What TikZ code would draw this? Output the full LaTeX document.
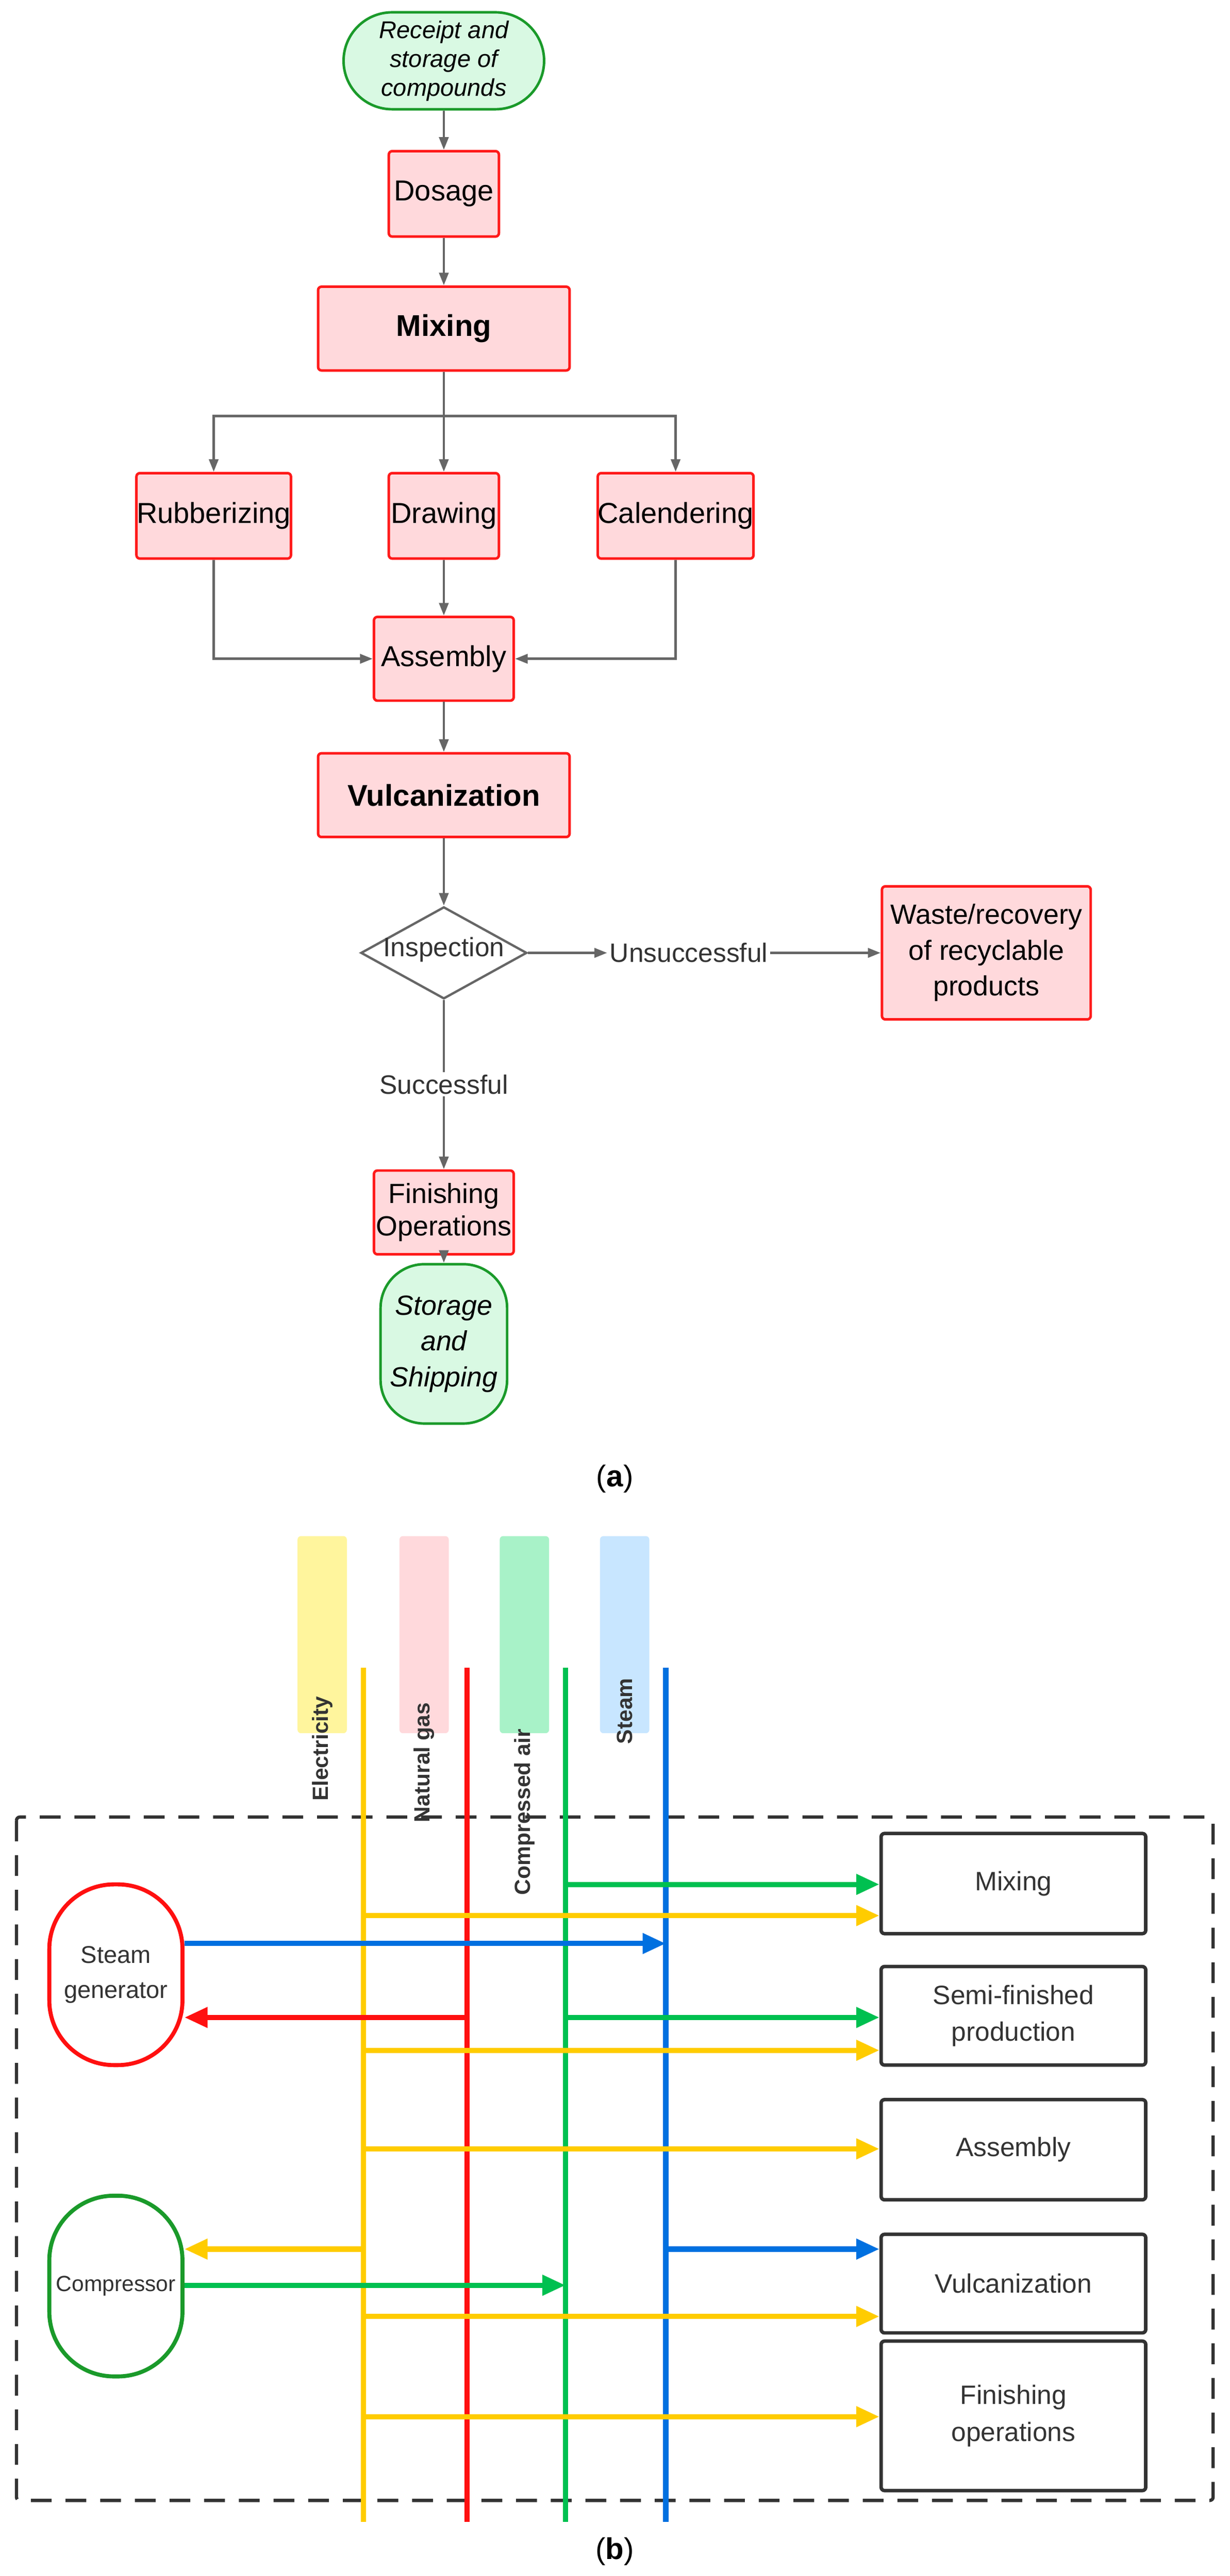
\documentclass[tikz,border=0pt]{standalone}
\usepackage{fontspec}
\setmainfont{Liberation Sans}
\usetikzlibrary{arrows.meta,shapes.geometric}
\definecolor{pfill}{HTML}{FFD9DC}
\definecolor{pred}{HTML}{FF1A1A}
\definecolor{gfill}{HTML}{D9F9E3}
\definecolor{gline}{HTML}{1A9A2A}
\definecolor{ar}{HTML}{666666}
\definecolor{cy}{HTML}{FFCC00}
\definecolor{cr}{HTML}{FF1010}
\definecolor{cg}{HTML}{00C050}
\definecolor{cb}{HTML}{0070E0}
\definecolor{ly}{HTML}{FFF59D}
\definecolor{lp}{HTML}{FFD9DC}
\definecolor{lg}{HTML}{A8F2C8}
\definecolor{lb}{HTML}{C8E6FF}
\definecolor{tx}{HTML}{333333}
\begin{document}
\begin{tikzpicture}[x=0.05cm,y=-0.05cm,
  proc/.style={draw=pred,line width=2.2pt,fill=pfill,rounded corners=3pt,inner sep=0pt,font=\fontsize{25}{30}\selectfont,align=center},
  term/.style={draw=gline,line width=2.2pt,fill=gfill,rounded corners=42pt,inner sep=0pt,font=\fontsize{21}{25}\selectfont\itshape,align=center},
  ga/.style={draw=ar,line width=2.2pt,-{Triangle[length=11pt,width=8pt]}},
  bx/.style={draw=tx,line width=3pt,rounded corners=3pt,inner sep=0pt,minimum width=161*0.05cm,text=tx,font=\fontsize{23}{32}\selectfont,align=center},
  tank/.style={line width=3.5pt,fill=white,rounded corners=56pt,inner sep=0pt,minimum width=81*0.05cm,minimum height=110*0.05cm,text=tx,align=center},
  lab/.style={rounded corners=3pt,inner sep=0pt,minimum width=30*0.05cm,minimum height=120*0.05cm},
  labt/.style={rotate=90,font=\fontsize{19}{22}\selectfont\bfseries,text=tx,anchor=east},
  ln/.style={line width=4.5pt},
  ah/.style={line width=4.5pt,-{Triangle[length=20pt,width=17pt]}}]
\useasboundingbox (0,0) rectangle (748,1568);
% ---------- (a)
\node[term,minimum width=122*0.05cm,minimum height=59*0.05cm] (rec) at (270,37) {Receipt and\\storage of\\compounds};
\node[proc,minimum width=67*0.05cm,minimum height=52*0.05cm] (dos) at (270,118) {Dosage};
\node[proc,minimum width=153*0.05cm,minimum height=51*0.05cm,font=\fontsize{26}{30}\selectfont\bfseries] (mix) at (270,200) {Mixing};
\node[proc,minimum width=94*0.05cm,minimum height=52*0.05cm] (rub) at (130,314) {Rubberizing};
\node[proc,minimum width=67*0.05cm,minimum height=52*0.05cm] (drw) at (270,314) {Drawing};
\node[proc,minimum width=93*0.05cm,minimum height=52*0.05cm] (cal) at (411,314) {Calendering};
\node[proc,minimum width=85*0.05cm,minimum height=51*0.05cm] (asm) at (270,401) {Assembly};
\node[proc,minimum width=153*0.05cm,minimum height=51*0.05cm,font=\fontsize{26}{30}\selectfont\bfseries] (vul) at (270,484) {Vulcanization};
\node[diamond,draw=ar,line width=2pt,minimum width=101*0.05cm,minimum height=56*0.05cm,inner sep=0pt,aspect=1.8,font=\fontsize{23}{28}\selectfont,text=tx] (ins) at (270,580) {};
\node[font=\fontsize{23}{28}\selectfont,text=tx] at (270,578) {Inspection};
\node[font=\fontsize{23}{28}\selectfont,text=tx,fill=white,inner sep=2pt] (uns) at (419,580) {Unsuccessful};
\node[proc,minimum width=127*0.05cm,minimum height=81*0.05cm,font=\fontsize{24}{31}\selectfont] (was) at (600,580) {Waste/recovery\\of recyclable\\products};
\node[font=\fontsize{23}{28}\selectfont,text=tx,fill=white,inner sep=2pt] (suc) at (270,660) {Successful};
\node[proc,minimum width=85*0.05cm,minimum height=51*0.05cm,font=\fontsize{24}{28}\selectfont] (fin) at (270,738) {Finishing\\Operations};
\node[term,rounded corners=38pt,minimum width=77*0.05cm,minimum height=97*0.05cm,font=\fontsize{24}{31}\selectfont\itshape] (sto) at (270,818) {Storage\\and\\Shipping};
\node[font=\fontsize{26}{30}\selectfont] (la) at (374,900) {(\textbf{a})};
\draw[ga] (rec) -- (dos);
\draw[ga] (dos) -- (mix);
\draw[ga] (mix) -- (drw);
\draw[ga] (mix.south) -- ++(0,27) -| (rub);
\draw[ga] (mix.south) -- ++(0,27) -| (cal);
\draw[ga] (drw) -- (asm);
\draw[ga] (rub) |- (asm);
\draw[ga] (cal) |- (asm);
\draw[ga] (asm) -- (vul);
\draw[ga] (vul) -- (ins);
\draw[ga] (ins) -- (uns);
\draw[ga] (uns) -- (was);
\draw[draw=ar,line width=2.2pt] (ins) -- (suc);
\draw[ga] (suc) -- (fin);
\draw[ga] (fin) -- (sto);
% ---------- (b)
\node[lab,fill=ly] (lE) at (196,995) {};
\node[lab,fill=lp] (lN) at (258,995) {};
\node[lab,fill=lg] (lC) at (319,995) {};
\node[lab,fill=lb] (lS) at (380,995) {};
\node[labt] at (196,1030) {Electricity};
\node[labt] at (258,1034) {Natural gas};
\node[labt] at (319,1050) {Compressed air};
\node[labt] at (380,1019) {Steam};
\draw[dashed,draw=tx,line width=2.8pt,dash pattern=on 18pt off 12pt,rounded corners=3pt] (10,1106) rectangle (738,1522);
\coordinate (eT) at (221,1015); \coordinate (eB) at (221,1535);
\coordinate (nT) at (284,1015); \coordinate (nB) at (284,1535);
\coordinate (cT) at (344,1015); \coordinate (cB) at (344,1535);
\coordinate (sT) at (405,1015); \coordinate (sB) at (405,1535);
\node[bx,minimum height=61*0.05cm] (bMix) at (616.5,1146.5) {Mixing};
\node[bx,minimum height=60*0.05cm] (bSemi) at (616.5,1227) {Semi-finished\\production};
\node[bx,minimum height=61*0.05cm] (bAsm) at (616.5,1308.5) {Assembly};
\node[bx,minimum height=60*0.05cm] (bVul) at (616.5,1390) {Vulcanization};
\node[bx,minimum height=91*0.05cm] (bFin) at (616.5,1470.5) {Finishing\\operations};
\node[tank,draw=cr,font=\fontsize{21}{30}\selectfont] (sg) at (70.5,1202) {Steam\\generator};
\node[tank,draw=gline,font=\fontsize{19}{24}\selectfont] (cp) at (70.5,1391.5) {Compressor};
\draw[ln,cy] (eT) -- (eB);
\draw[ln,cr] (nT) -- (nB);
\draw[ln,cg] (cT) -- (cB);
\draw[ln,cb] (sT) -- (sB);
\draw[ah,cg] (cT|-0,1147) -- (bMix.west|-0,1147);
\draw[ah,cy] (eT|-0,1166) -- (bMix.west|-0,1166);
\draw[ah,cb] (sg.east|-0,1183) -- (sT|-0,1183);
\draw[ah,cr] (nT|-0,1228) -- (sg.east|-0,1228);
\draw[ah,cg] (cT|-0,1228) -- (bSemi.west|-0,1228);
\draw[ah,cy] (eT|-0,1248) -- (bSemi.west|-0,1248);
\draw[ah,cy] (eT|-0,1308) -- (bAsm.west|-0,1308);
\draw[ah,cy] (eT|-0,1369) -- (cp.east|-0,1369);
\draw[ah,cb] (sT|-0,1369) -- (bVul.west|-0,1369);
\draw[ah,cg] (cp.east|-0,1391) -- (cT|-0,1391);
\draw[ah,cy] (eT|-0,1410) -- (bVul.west|-0,1410);
\draw[ah,cy] (eT|-0,1471) -- (bFin.west|-0,1471);
\node[font=\fontsize{26}{30}\selectfont] (lb2) at (374,1553) {(\textbf{b})};
\end{tikzpicture}
\end{document}
